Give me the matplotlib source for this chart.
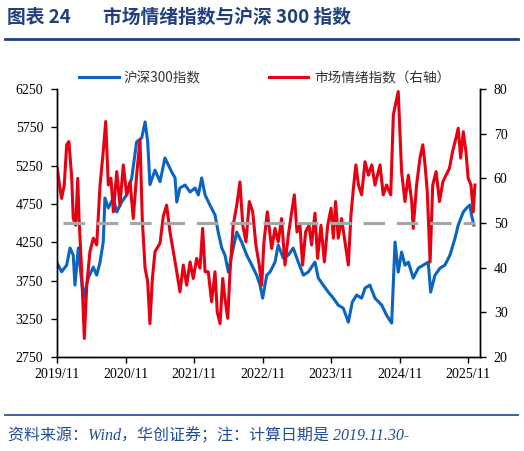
import numpy as np
import pandas as pd
import matplotlib
matplotlib.use("Agg")
import matplotlib.pyplot as plt
import matplotlib.dates as mdates
from matplotlib.lines import Line2D

plt.rcParams['font.family'] = ['Noto Sans CJK SC', 'DejaVu Sans']
plt.rcParams['lines.scale_dashes'] = False

# 沪深300 (left axis)
hs300_dates = [
    "2019-11-30", "2019-12-23", "2020-01-19", "2020-02-06", "2020-02-23", "2020-03-03",
    "2020-03-21", "2020-03-30", "2020-04-17", "2020-05-13", "2020-06-09", "2020-06-27",
    "2020-07-15", "2020-08-01", "2020-08-10", "2020-08-28", "2020-09-24", "2020-10-12",
    "2020-11-07", "2020-12-04", "2020-12-31", "2021-01-26", "2021-02-22", "2021-03-12",
    "2021-03-26", "2021-04-07", "2021-05-04", "2021-05-31", "2021-06-26", "2021-07-14",
    "2021-08-01", "2021-08-19", "2021-08-28", "2021-09-14", "2021-10-11", "2021-11-07",
    "2021-12-04", "2021-12-21", "2022-01-08", "2022-01-26", "2022-02-21", "2022-03-20",
    "2022-04-06", "2022-04-25", "2022-05-12", "2022-05-30", "2022-06-17", "2022-07-14",
    "2022-08-09", "2022-09-05", "2022-10-02", "2022-10-28", "2022-11-15", "2022-11-29",
    "2022-12-21", "2023-01-07", "2023-02-03", "2023-02-20", "2023-03-19", "2023-04-15",
    "2023-05-11", "2023-06-07", "2023-07-04", "2023-07-30", "2023-09-04", "2023-09-22",
    "2023-10-18", "2023-11-14", "2023-12-11", "2024-01-06", "2024-02-02", "2024-02-29",
    "2024-03-21", "2024-04-13", "2024-05-10", "2024-05-28", "2024-06-23", "2024-07-20",
    "2024-08-25", "2024-09-20", "2024-10-17", "2024-11-04", "2024-11-21", "2024-12-09",
    "2024-12-27", "2025-01-14", "2025-02-09", "2025-03-08", "2025-04-04", "2025-04-30",
    "2025-05-13", "2025-06-05", "2025-07-02", "2025-07-28", "2025-08-24", "2025-09-20",
    "2025-10-07", "2025-11-03", "2025-11-21", "2025-12-08", "2025-12-17", "2025-12-29",
]
hs300 = [
    3974, 3864, 3951, 4174, 4082, 3690,
    4174, 3951, 3520, 3782, 3925, 3820,
    3990, 4252, 4826, 4696, 4826, 4644,
    4774, 4866, 5088, 5558, 5610, 5819,
    5558, 5000, 5190, 5040, 5349, 5257,
    5166, 5088, 4774, 4957, 4996, 4905,
    4957, 4866, 5088, 4866, 4735, 4604,
    4382, 4174, 4082, 3860, 4082, 4382,
    4252, 4082, 3951, 3820, 3690, 3520,
    3820, 3860, 3990, 4213, 4043, 4082,
    4174, 3990, 3820, 3860, 3990, 3782,
    3690, 3599, 3520, 3429, 3390, 3207,
    3468, 3560, 3520, 3651, 3690, 3520,
    3429, 3298, 3194, 4252, 3860, 4121,
    3951, 3990, 3782, 3912, 3951, 3990,
    3599, 3820, 3912, 3951, 4082, 4304,
    4474, 4644, 4696, 4735, 4604, 4474,
]

# 市场情绪指数 (right axis)
mood_dates = [
    "2019-11-30", "2019-12-14", "2019-12-23", "2020-01-06", "2020-01-19", "2020-01-31",
    "2020-02-15", "2020-02-23", "2020-03-07", "2020-03-18", "2020-03-25", "2020-04-08",
    "2020-04-22", "2020-05-05", "2020-05-22", "2020-06-09", "2020-06-27", "2020-07-15",
    "2020-08-01", "2020-08-14", "2020-08-28", "2020-09-11", "2020-09-24", "2020-10-12",
    "2020-10-29", "2020-11-16", "2020-12-04", "2020-12-22", "2021-01-08", "2021-01-26",
    "2021-02-13", "2021-02-25", "2021-03-12", "2021-03-26", "2021-04-07", "2021-04-20",
    "2021-05-04", "2021-05-31", "2021-06-17", "2021-07-05", "2021-07-23", "2021-08-10",
    "2021-08-28", "2021-09-14", "2021-10-02", "2021-10-20", "2021-11-07", "2021-11-24",
    "2021-12-12", "2021-12-30", "2022-01-13", "2022-01-26", "2022-02-12", "2022-03-02",
    "2022-03-20", "2022-04-01", "2022-04-16", "2022-04-30", "2022-05-12", "2022-05-27",
    "2022-06-08", "2022-06-25", "2022-07-14", "2022-07-31", "2022-08-15", "2022-09-01",
    "2022-09-19", "2022-10-07", "2022-10-24", "2022-11-11", "2022-11-24", "2022-12-06",
    "2022-12-24", "2023-01-16", "2023-02-03", "2023-02-20", "2023-03-10", "2023-03-28",
    "2023-04-15", "2023-05-03", "2023-05-17", "2023-05-31", "2023-06-16", "2023-06-30",
    "2023-07-16", "2023-08-03", "2023-08-17", "2023-09-04", "2023-09-18", "2023-10-06",
    "2023-10-24", "2023-11-11", "2023-11-29", "2023-12-11", "2023-12-23", "2024-01-06",
    "2024-01-24", "2024-02-11", "2024-02-29", "2024-03-14", "2024-03-27", "2024-04-09",
    "2024-04-23", "2024-05-10", "2024-05-28", "2024-06-15", "2024-07-03", "2024-07-20",
    "2024-08-16", "2024-09-02", "2024-09-20", "2024-10-12", "2024-10-26", "2024-11-21",
    "2024-12-09", "2024-12-27", "2025-01-14", "2025-02-01", "2025-02-09", "2025-02-27",
    "2025-03-17", "2025-04-01", "2025-04-13", "2025-04-25", "2025-05-10", "2025-05-24",
    "2025-06-11", "2025-06-29", "2025-07-17", "2025-08-03", "2025-08-21", "2025-09-07",
    "2025-09-25", "2025-10-07", "2025-10-20", "2025-11-03", "2025-11-17", "2025-11-29",
    "2025-12-14", "2025-12-26", "2026-01-04",
]
mood = [
    62.2, 57.8, 55.5, 58.5, 67.5, 68.2,
    60.0, 51.0, 49.5, 60.0, 51.1, 39.1,
    24.2, 36.0, 43.6, 46.6, 45.1, 58.5,
    66.0, 72.7, 58.5, 60.0, 52.5, 61.5,
    54.0, 63.0, 56.3, 59.2, 51.0, 60.7,
    68.6, 51.0, 39.9, 36.9, 27.5, 37.6,
    43.6, 45.5, 51.5, 54.0, 48.0, 43.6,
    39.1, 34.6, 40.6, 36.1, 41.3, 37.6,
    42.1, 39.9, 48.8, 39.1, 39.1, 32.4,
    39.1, 30.1, 27.5, 37.6, 33.1, 28.7,
    39.1, 49.5, 54.0, 59.2, 49.5, 45.8,
    54.8, 52.5, 45.1, 40.6, 36.1, 45.8,
    52.5, 44.3, 48.8, 45.8, 51.0, 40.6,
    47.3, 52.5, 56.3, 48.0, 49.5, 40.6,
    48.0, 49.5, 45.1, 52.2, 42.1, 49.5,
    41.3, 49.5, 53.3, 46.6, 54.8, 46.6,
    51.0, 45.8, 40.6, 51.8, 57.8, 63.0,
    58.5, 56.3, 63.7, 60.7, 63.0, 58.5,
    63.0, 56.3, 58.5, 56.3, 74.2, 79.4,
    61.5, 54.8, 60.7, 54.8, 48.8, 58.5,
    64.5, 67.5, 63.0, 57.0, 41.3, 58.5,
    61.5, 54.8, 59.2, 60.7, 62.2, 66.0,
    69.0, 71.2, 64.5, 70.4, 66.0, 60.0,
    58.5, 52.5, 58.5,
]

ref_level = 50
left_ticks = [2750, 3250, 3750, 4250, 4750, 5250, 5750, 6250]
right_ticks = [20, 30, 40, 50, 60, 70, 80]
year_ticks = ["2019-11-30", "2020-11-30", "2021-11-30", "2022-11-30",
              "2023-11-30", "2024-11-30", "2025-11-30"]

blue = '#0A64C0'
red = '#E60012'
navy = '#1F3F7F'

fig = plt.figure(figsize=(5.24, 4.51), dpi=100)
ax = fig.add_axes([0.109, 0.208, 0.807, 0.595])
ax2 = ax.twinx()

d1 = pd.to_datetime(hs300_dates)
d2 = pd.to_datetime(mood_dates)
l1, = ax.plot(d1, hs300, color=blue, lw=2.2, label='沪深300指数')
l2, = ax2.plot(d2, mood, color=red, lw=2.2, label='市场情绪指数（右轴）')
ax2.plot([d2[0] + pd.Timedelta(days=30), d2[-1]], [ref_level, ref_level],
         color='#A6A6A6', lw=2.3, dashes=(15.5, 8.5), zorder=5)

ax.set_ylim(2750, 6250)
ax2.set_ylim(20, 80)
ax.set_yticks(left_ticks)
ax2.set_yticks(right_ticks)
ax.set_xlim(pd.Timestamp("2019-11-29"), pd.Timestamp("2026-01-31"))
ax.set_xticks(pd.to_datetime(year_ticks))
ax.xaxis.set_major_formatter(mdates.DateFormatter('%Y/%m'))

for a in (ax, ax2):
    a.spines['top'].set_visible(False)
    for s in a.spines.values():
        s.set_linewidth(1.0)
    a.tick_params(direction='out', length=4, width=1, labelsize=10)
    for lab in a.get_xticklabels() + a.get_yticklabels():
        lab.set_family('Liberation Serif')
ax.tick_params(axis='y', pad=6)
ax2.tick_params(axis='y', pad=6)

fig.legend(handles=[l1, l2], loc='center', bbox_to_anchor=(0.505, 0.827), ncol=2,
           frameon=False, fontsize=9.8, handlelength=2.9, columnspacing=5.0,
           handletextpad=0.4, labelcolor='#333333')

fig.text(0.013, 0.962, '图表 24', color=navy,
         fontsize=13.5, fontweight='bold', va='center', ha='left')
fig.text(0.197, 0.962, '市场情绪指数与沪深 300 指数', color=navy,
         fontsize=13.5, fontweight='bold', va='center', ha='left')
fig.add_artist(Line2D([0.01, 0.988], [0.913, 0.913], color=navy, lw=2.0))
fig.add_artist(Line2D([0.01, 0.988], [0.08, 0.08], color='#2E5597', lw=1.3))
fig.text(0.015, 0.032, '资料来源：Wind，华创证券；注：计算日期是 2019.11.30-',
         color='#1F4E9A', fontsize=11.5, style='italic', va='center', ha='left',
         family=['Liberation Serif', 'Noto Sans CJK SC'])

fig.savefig('out.png', dpi=100)
